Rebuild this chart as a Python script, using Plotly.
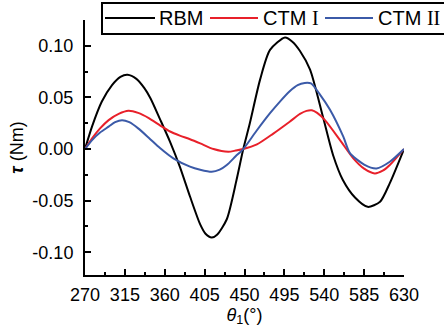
import plotly.graph_objects as go

# Data
rbm_theta = [270, 278, 289, 300.5, 310, 318, 328, 337, 344, 354.6, 366, 377, 388.5, 400, 406, 413, 419,
             430, 441, 448.6, 456, 467.5, 478.8, 495.7, 504, 512.6, 524, 538.6, 550, 561, 574.7, 589,
             603, 614, 630]
rbm_tau = [0, 0.022, 0.046, 0.062, 0.070, 0.072, 0.068, 0.059, 0.049, 0.029, 0.007, -0.017, -0.046,
           -0.073, -0.082, -0.0857, -0.083, -0.068, -0.030, 0, 0.025, 0.067, 0.096, 0.108, 0.104, 0.095,
           0.077, 0.031, -0.006, -0.030, -0.047, -0.056, -0.051, -0.033, 0]

ctm1_theta = [270, 278, 287, 296.7, 308, 319, 330, 342, 354.6, 366, 377, 388.5, 400, 415, 431.7, 440,
              448.6, 464, 482.5, 501, 512.6, 520, 526, 532, 540.8, 557.8, 572.8, 585, 597, 606, 614, 630]
ctm1_tau = [0, 0.0104, 0.020, 0.028, 0.034, 0.037, 0.035, 0.030, 0.023, 0.017, 0.013, 0.0095, 0.0055,
            0.000, -0.0026, -0.0015, 0, 0.0045, 0.015, 0.0265, 0.034, 0.037, 0.0375, 0.035, 0.028,
            0.0087, -0.009, -0.019, -0.0236, -0.021, -0.0155, 0]

ctm2_theta = [270, 278, 287, 296.7, 304, 311.8, 320, 330, 341.9, 354.6, 369.7, 388.5, 400, 413, 422,
              430, 440, 448.6, 463, 478.8, 490, 501, 510, 518, 525, 535, 546.5, 561.5, 569, 585, 599,
              614, 630]
ctm2_tau = [0, 0.0087, 0.016, 0.0217, 0.026, 0.028, 0.026, 0.020, 0.011, 0.001, -0.009, -0.017, -0.020,
            -0.022, -0.020, -0.0155, -0.007, 0, 0.017, 0.0347, 0.046, 0.056, 0.062, 0.064, 0.0635, 0.053,
            0.038, 0.012, -0.004, -0.015, -0.0188, -0.0123, 0]

x_ticks = [270, 315, 360, 405, 450, 495, 540, 585, 630]
y_ticks = [-0.10, -0.05, 0.00, 0.05, 0.10]
y_tick_labels = ["-0.10", "-0.05", "0.00", "0.05", "0.10"]

series_names = ["RBM", "CTM <span style='font-family:Liberation Serif'>I</span>",
                "CTM <span style='font-family:Liberation Serif'>II</span>"]
colors = ["#000000", "#e8202a", "#3b5aa8"]

FONT = "Liberation Sans, Arial, sans-serif"

fig = go.Figure()
for th, tau, name, c in [(rbm_theta, rbm_tau, series_names[0], colors[0]),
                         (ctm1_theta, ctm1_tau, series_names[1], colors[1]),
                         (ctm2_theta, ctm2_tau, series_names[2], colors[2])]:
    fig.add_trace(go.Scatter(x=th, y=tau, mode="lines", name=name, showlegend=False,
                             line=dict(color=c, width=2, shape="spline", smoothing=0.7)))

fig.update_layout(
    width=444, height=334,
    margin=dict(l=85, r=40, t=20, b=59),
    paper_bgcolor="white", plot_bgcolor="white",
    font=dict(family=FONT, size=18, color="black"),
    showlegend=False,
)
fig.update_xaxes(
    range=[270, 630], tickvals=x_ticks, ticktext=[str(v) for v in x_ticks],
    showgrid=False, zeroline=False, showline=True, linecolor="black", linewidth=2,
    ticks="inside", ticklen=6, tickwidth=1.5, tickcolor="black",
    minor=dict(dtick=22.5, tick0=270, ticks="inside", ticklen=3, tickwidth=1.5, tickcolor="black"),
    tickfont=dict(size=18), ticklabelstandoff=2, automargin=False,
    title=dict(text="<i>θ</i><sub>1</sub>(°)", font=dict(size=18), standoff=0),
)
fig.update_yaxes(
    range=[-0.122, 0.125], tickvals=y_ticks, ticktext=y_tick_labels,
    showgrid=False, zeroline=False, showline=True, linecolor="black", linewidth=2,
    ticks="inside", ticklen=6, tickwidth=1.5, tickcolor="black",
    minor=dict(dtick=0.025, tick0=0, ticks="inside", ticklen=3, tickwidth=1.5, tickcolor="black"),
    tickfont=dict(size=18), ticklabelstandoff=6, automargin=False,
    title=dict(text="<b><i>τ</i></b> (Nm)", font=dict(size=18), standoff=4),
)

# Custom legend box (extends past the right edge like the reference)
fig.add_shape(type="rect", xref="paper", yref="paper",
              x0=(102 - 85) / 319, x1=(450 - 85) / 319,
              y0=(275 - 34) / 255, y1=(275 - 3) / 255,
              line=dict(color="black", width=2), fillcolor="white", layer="above")
leg_y = (275 - 18) / 255
line_px = [(105, 155), (210, 258), (325, 373)]
text_px = [157, 261, 376]
for (a, b), tx, name, c in zip(line_px, text_px, series_names, colors):
    fig.add_shape(type="line", xref="paper", yref="paper",
                  x0=(a - 85) / 319, x1=(b - 85) / 319, y0=leg_y, y1=leg_y,
                  line=dict(color=c, width=2), layer="above")
    fig.add_annotation(xref="paper", yref="paper", x=(tx - 85) / 319, y=leg_y,
                       text=name, showarrow=False, xanchor="left", yanchor="middle",
                       font=dict(size=20, family=FONT, color="black"))

fig.write_html("out.html", config={"displayModeBar": False},
               post_script="document.body.style.margin='0';document.body.style.padding='0';")
